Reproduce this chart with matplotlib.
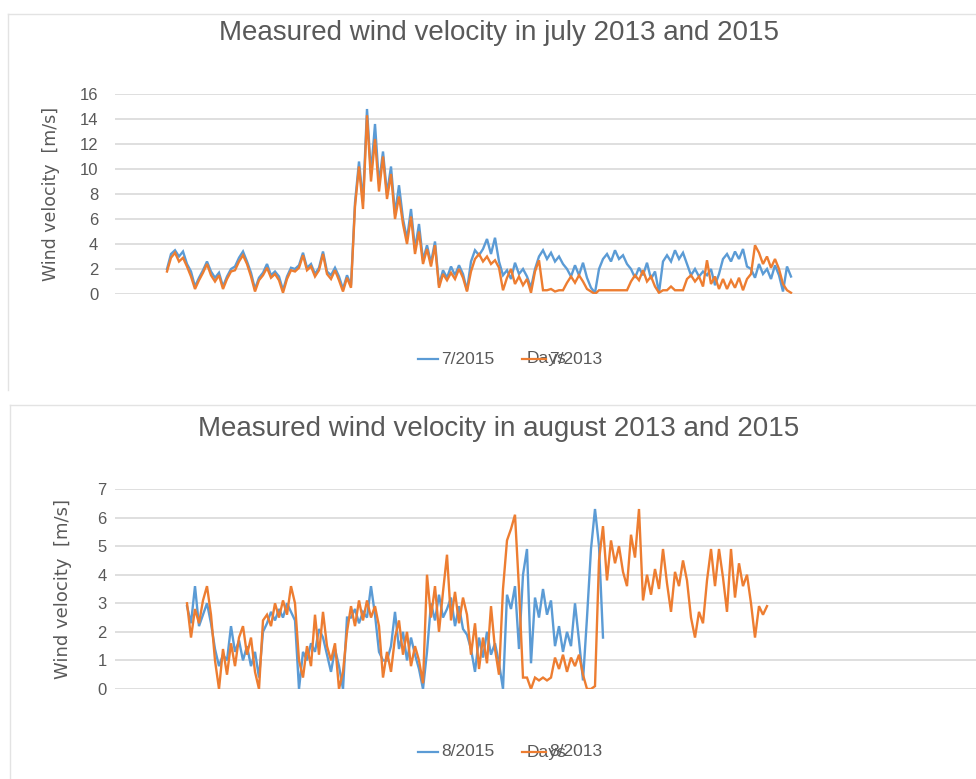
import numpy as np
import matplotlib
matplotlib.use("Agg")
import matplotlib.pyplot as plt
from matplotlib.lines import Line2D

# wind velocity samples [m/s], evenly spaced through each month
july_2015 = [
    2.0, 3.2, 3.5, 3.0, 3.4, 2.4, 1.8, 0.6, 1.3, 1.9,
    2.6, 1.8, 1.3, 1.7, 0.6, 1.4, 2.0, 2.2, 2.9, 3.4,
    2.6, 1.7, 0.4, 1.3, 1.7, 2.4, 1.5, 1.8, 1.4, 0.3,
    1.4, 2.1, 2.0, 2.3, 3.3, 2.1, 2.4, 1.6, 2.1, 3.4,
    1.8, 1.5, 2.1, 1.4, 0.4, 1.5, 0.7, 7.3, 10.6, 7.4,
    14.8, 9.6, 13.6, 8.8, 11.4, 8.0, 10.2, 6.4, 8.7, 6.0,
    4.4, 6.8, 3.6, 5.6, 2.7, 3.9, 2.5, 4.2, 0.7, 1.9,
    1.3, 2.2, 1.5, 2.3, 1.6, 0.3, 2.6, 3.5, 3.1, 3.6,
    4.4, 3.2, 4.5, 2.6, 1.5, 1.9, 1.2, 2.5, 1.6, 2.0,
    1.4, 0.5, 2.0, 3.0, 3.5, 2.8, 3.3, 2.6, 3.0, 2.4,
    2.0, 1.4, 2.3, 1.5, 2.5, 1.3, 0.5, 0.1, 2.0, 2.8,
    3.2, 2.6, 3.5, 2.8, 3.1, 2.4, 2.0, 1.3, 2.1, 1.5,
    2.5, 1.2, 1.8, 0.1, 2.6, 3.1, 2.6, 3.5, 2.8, 3.3,
    2.4, 1.5, 2.0, 1.4, 1.8, 1.5, 2.0, 0.7, 1.6, 2.8,
    3.2, 2.6, 3.4, 2.8, 3.6, 2.2, 2.0, 1.3, 2.4, 1.6,
    2.0, 1.2, 2.3, 1.5, 0.2, 2.2, 1.4,
]
july_2013 = [
    1.8, 2.9, 3.3, 2.6, 2.9, 2.2, 1.4, 0.4, 1.1, 1.7,
    2.4, 1.5, 1.0, 1.5, 0.4, 1.2, 1.8, 1.9, 2.6, 3.1,
    2.4, 1.4, 0.2, 1.1, 1.5, 2.1, 1.3, 1.6, 1.1, 0.1,
    1.2, 1.9, 1.8, 2.1, 3.1, 1.9, 2.2, 1.4, 1.9, 3.2,
    1.6, 1.2, 1.9, 1.1, 0.2, 1.3, 0.5, 7.0, 10.2, 6.8,
    14.3, 9.0, 12.4, 8.2, 11.0, 7.6, 9.6, 6.0, 7.8, 5.6,
    4.0, 6.2, 3.2, 5.0, 2.4, 3.6, 2.2, 3.9, 0.5, 1.6,
    1.1, 1.7, 1.2, 2.0, 1.3, 0.2, 1.8, 2.8, 3.2, 2.6,
    3.0, 2.4, 2.7, 2.1, 0.3, 1.3, 2.0, 0.8, 1.4, 0.7,
    1.2, 0.1, 1.8, 2.7, 0.3, 0.3, 0.4, 0.2, 0.3, 0.3,
    0.9, 1.4, 0.9, 1.5, 1.0, 0.4, 0.2, 0.0, 0.3, 0.3,
    0.3, 0.3, 0.3, 0.3, 0.3, 0.3, 1.0, 1.5, 1.1, 1.9,
    1.0, 1.4, 0.6, 0.1, 0.3, 0.3, 0.6, 0.3, 0.3, 0.3,
    1.2, 1.5, 1.0, 1.4, 0.6, 2.7, 0.8, 1.4, 0.4, 1.2,
    0.4, 1.1, 0.5, 1.3, 0.3, 1.2, 1.6, 3.9, 3.3, 2.4,
    3.0, 2.1, 2.8, 2.0, 0.8, 0.3, 0.1,
]
aug_2015 = [
    2.9, 2.3, 3.6, 2.2, 2.6, 3.0, 2.3, 1.4, 0.8, 1.2,
    1.0, 2.2, 1.3, 1.7, 1.0, 1.5, 0.8, 1.3, 0.4, 2.0,
    2.3, 2.7, 2.4, 2.8, 2.5, 3.0, 2.7, 2.4, 0.0, 1.3,
    1.0, 1.6, 1.3, 2.1, 1.8, 1.2, 0.6, 1.4, 0.8, 0.0,
    2.5, 2.5, 2.8, 2.3, 2.7, 2.5, 3.6, 2.6, 1.3, 1.0,
    1.0, 1.5, 2.7, 1.4, 2.0, 1.0, 1.8, 1.2, 0.7, 0.0,
    1.3, 3.0, 2.4, 3.3, 2.5, 2.8, 3.2, 2.2, 2.9, 2.1,
    1.9, 1.4, 0.6, 1.8, 1.1, 2.0, 1.2, 1.6, 0.9, 0.0,
    3.3, 2.8, 3.6, 1.4, 4.0, 4.9, 0.9, 3.2, 2.5, 3.5,
    2.6, 3.1, 1.5, 2.2, 1.3, 2.0, 1.5, 3.0, 1.7, 0.3,
    2.5, 4.9, 6.3, 5.0, 1.8,
]
aug_2013 = [
    3.0, 1.8, 2.8, 2.3, 3.1, 3.6, 2.6, 1.0, 0.0, 1.4,
    0.5, 1.6, 0.8, 1.8, 2.2, 1.2, 1.8, 0.6, 0.0, 2.4,
    2.6, 2.2, 3.0, 2.5, 3.1, 2.6, 3.6, 3.0, 1.0, 0.4,
    1.5, 0.8, 2.6, 1.2, 2.7, 1.5, 1.0, 1.6, 0.0, 0.6,
    2.0, 2.9, 2.2, 3.1, 2.4, 3.1, 2.5, 2.9, 2.2, 0.4,
    1.3, 0.6, 1.8, 2.4, 1.2, 2.0, 0.8, 1.5, 1.0, 0.2,
    4.0, 2.5, 3.6, 2.0, 3.4, 4.7, 2.4, 3.4, 2.3, 3.2,
    2.6, 1.2, 2.3, 0.7, 1.8, 0.9, 2.9, 1.4, 0.5, 3.5,
    5.2, 5.6, 6.1, 3.5, 0.4, 0.4, 0.0, 0.4, 0.3, 0.4,
    0.3, 0.4, 1.1, 0.7, 1.2, 0.6, 1.1, 0.8, 1.2, 0.5,
    0.0, 0.0, 0.1, 4.5, 5.7, 3.8, 5.2, 4.4, 5.0, 4.1,
    3.6, 5.4, 4.6, 6.3, 3.1, 4.0, 3.3, 4.2, 3.5, 4.9,
    3.7, 2.7, 4.1, 3.6, 4.5, 3.8, 2.5, 1.8, 2.7, 2.3,
    3.8, 4.9, 3.6, 4.9, 3.9, 2.7, 4.9, 3.2, 4.4, 3.6,
    4.0, 3.0, 1.8, 2.9, 2.6, 2.9,
]

blue = '#5b9bd5'
orange = '#ed7d31'
grid_col = '#d9d9d9'
text_col = '#595959'
W, H = 976, 779

plt.rcParams['font.family'] = ['Liberation Sans', 'DejaVu Sans']

fig = plt.figure(figsize=(W / 100, H / 100), dpi=100)


def px_box(left, top, right, bottom):
    return [left / W, 1 - bottom / H, (right - left) / W, (bottom - top) / H]


def draw_chart(top_px, bottom_px, ymax, series, xlim, title, title_y, label_x,
               label_size, legend_y, labels, tick_pad):
    ax = fig.add_axes(px_box(115, top_px, W, bottom_px))
    for vals, col in series:
        ax.plot(np.arange(len(vals)), vals, color=col, lw=1.7, solid_joinstyle='miter')
    ax.set_xlim(*xlim)
    ax.set_ylim(0, ymax)
    ax.set_yticks(np.arange(0, ymax + 1, 2 if ymax > 8 else 1))
    ax.set_xticks([])
    ax.grid(axis='y', color=grid_col, lw=1.2)
    ax.set_axisbelow(True)
    for s in ax.spines.values():
        s.set_visible(False)
    ax.tick_params(axis='y', length=0, pad=tick_pad, labelsize=12, labelcolor=text_col)
    ax.set_ylabel('Wind velocity  [m/s]', family='DejaVu Sans', fontsize=label_size,
                  color=text_col)
    ax.yaxis.set_label_coords((label_x - 115) / (W - 115), 0.5)

    fig.text(0.511, 1 - title_y / H, title, ha='center', va='center',
             fontsize=20, color=text_col)

    # legend drawn in figure pixels
    ly = 1 - legend_y / H
    fig.add_artist(Line2D([418 / W, 438 / W], [ly, ly], color=blue, lw=1.6))
    fig.text(441 / W, ly, labels[0], ha='left', va='center', fontsize=12.5, color=text_col)
    fig.add_artist(Line2D([522 / W, 546 / W], [ly, ly], color=orange, lw=1.6, zorder=5))
    fig.text(527 / W, ly, 'Days', ha='left', va='center', fontsize=12.5, color=text_col)
    fig.text(549 / W, ly, labels[1], ha='left', va='center', fontsize=12.5, color=text_col)
    return ax


draw_chart(94, 294, 16, [(july_2015, blue), (july_2013, orange)], (-13, 202.25),
           'Measured wind velocity in july 2013 and 2015', 33, 60, 12.5, 359,
           ['7/2015', '7/2013'], 12)
draw_chart(489, 689, 7, [(aug_2015, blue), (aug_2013, orange)], (-18, 197.25),
           'Measured wind velocity in august 2013 and 2015', 429, 72, 13, 752,
           ['8/2015', '8/2013'], 6)

# chart area borders
for x0, y0, y1 in [(8, 14, 390), (10, 405, 779)]:
    fig.add_artist(Line2D([x0 / W, x0 / W], [1 - y0 / H, 1 - y1 / H], color='#e3e3e3', lw=1))
    fig.add_artist(Line2D([x0 / W, 1], [1 - y0 / H, 1 - y0 / H], color='#e3e3e3', lw=1))

fig.savefig('out.png', dpi=100)
